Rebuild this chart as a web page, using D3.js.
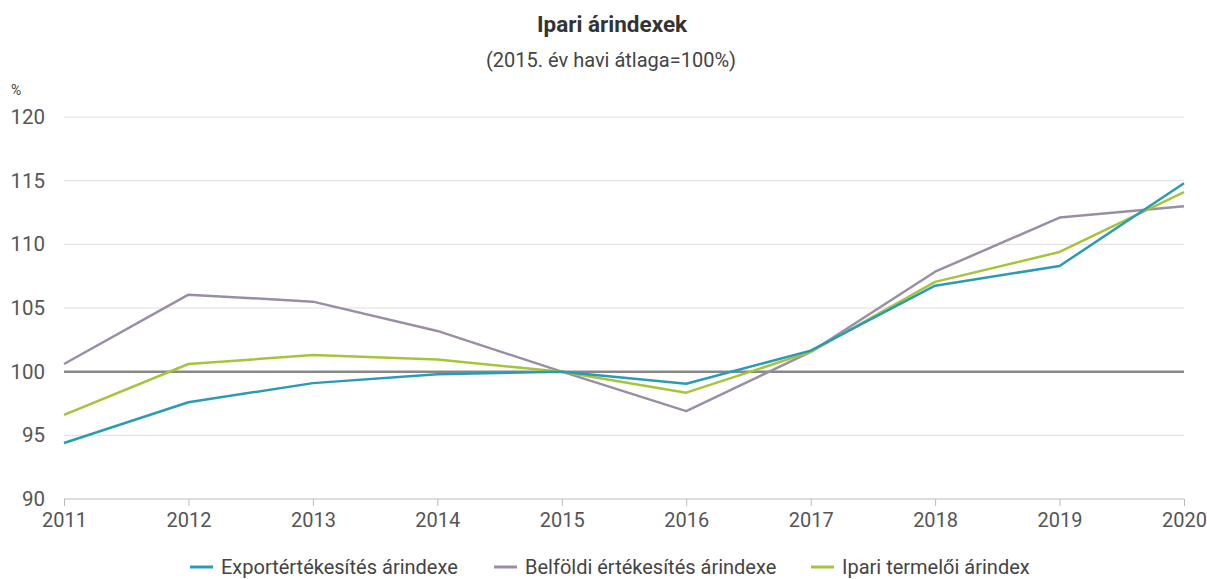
<!DOCTYPE html>
<html>
<head>
<meta charset="utf-8">
<script src="https://cdn.jsdelivr.net/npm/d3@7"></script>
<style>
  body { margin: 0; background: #fff; font-family: Roboto, sans-serif; }
</style>
</head>
<body>
<script>
// data
const years = [2011, 2012, 2013, 2014, 2015, 2016, 2017, 2018, 2019, 2020];
const exportIdx = [94.4, 97.6, 99.1, 99.8, 100, 99.05, 101.65, 106.75, 108.3, 114.8];
const belfoldiIdx = [100.6, 106.05, 105.5, 103.2, 100, 96.9, 101.55, 107.85, 112.1, 113.0];
const ipariIdx = [96.6, 100.6, 101.3, 100.95, 100, 98.35, 101.55, 107.05, 109.4, 114.1];
const seriesNames = ['Exportértékesítés árindexe', 'Belföldi értékesítés árindexe', 'Ipari termelői árindex'];
const yTicks = [90, 95, 100, 105, 110, 115, 120];

const colors = ['#2a9bb4', '#9a8ea6', '#a6c43a'];
const w = 1207, h = 579;

const svg = d3.select('body').append('svg')
    .attr('width', w)
    .attr('height', h);

const x = d3.scaleLinear().domain([2011, 2020]).range([64, 1184]);
const y = d3.scaleLinear().domain([90, 120]).range([499, 117]);

// title
svg.append('text')
    .attr('x', 612).attr('y', 32)
    .attr('text-anchor', 'middle')
    .attr('font-size', 22.5).attr('font-weight', 'bold')
    .attr('fill', '#333')
    .text('Ipari árindexek');
svg.append('text')
    .attr('x', 611).attr('y', 67)
    .attr('text-anchor', 'middle')
    .attr('font-size', 20)
    .attr('fill', '#444')
    .text('(2015. év havi átlaga=100%)');
svg.append('text')
    .attr('x', 11).attr('y', 95)
    .attr('font-size', 14)
    .attr('fill', '#444')
    .text('%');

// gridlines
svg.selectAll('.grid')
    .data(yTicks.filter(d => d !== 90 && d !== 100))
    .enter()
    .append('line')
    .attr('x1', 64).attr('x2', 1184)
    .attr('y1', d => y(d)).attr('y2', d => y(d))
    .attr('stroke', '#dedede')
    .attr('stroke-width', 1);

// y labels
svg.selectAll('.ylab')
    .data(yTicks)
    .enter()
    .append('text')
    .attr('x', 45)
    .attr('y', d => y(d) + 7)
    .attr('text-anchor', 'end')
    .attr('font-size', 20.5)
    .attr('fill', '#555')
    .text(d => d);

// x axis
const xAxis = d3.axisBottom(x)
    .tickValues(years)
    .tickFormat(d3.format('d'))
    .tickSize(7)
    .tickPadding(7);
const gx = svg.append('g')
    .attr('transform', `translate(0,${y(90)})`)
    .call(xAxis);
gx.select('.domain').attr('stroke', '#bbb').attr('d', `M64,0H1184`);
gx.selectAll('.tick line').attr('stroke', '#bbb');
gx.selectAll('.tick text')
    .attr('font-size', 20)
    .attr('font-family', 'Roboto, sans-serif')
    .attr('fill', '#555');

// baseline 100
svg.append('line')
    .attr('x1', 64).attr('x2', 1184)
    .attr('y1', y(100)).attr('y2', y(100))
    .attr('stroke', '#888')
    .attr('stroke-width', 2.5);

// lines
const allSeries = [exportIdx, belfoldiIdx, ipariIdx];
const line = d3.line()
    .x((d, i) => x(years[i]))
    .y(d => y(d));

// purple first, then green, then teal on top
[1, 2, 0].forEach(k => {
    svg.append('path')
        .datum(allSeries[k])
        .attr('d', line)
        .attr('fill', 'none')
        .attr('stroke', colors[k])
        .attr('stroke-width', 2.5)
        .attr('stroke-linejoin', 'round');
});

// legend
const legendX = [190, 494, 811];
const lg = svg.selectAll('.leg')
    .data(seriesNames)
    .enter()
    .append('g')
    .attr('transform', (d, i) => `translate(${legendX[i]},567)`);
lg.append('line')
    .attr('x1', 0).attr('x2', 23)
    .attr('stroke', (d, i) => colors[i])
    .attr('stroke-width', 3);
lg.append('text')
    .attr('x', 31).attr('y', 7)
    .attr('font-size', 20)
    .attr('fill', '#444')
    .text(d => d);
</script>
</body>
</html>
